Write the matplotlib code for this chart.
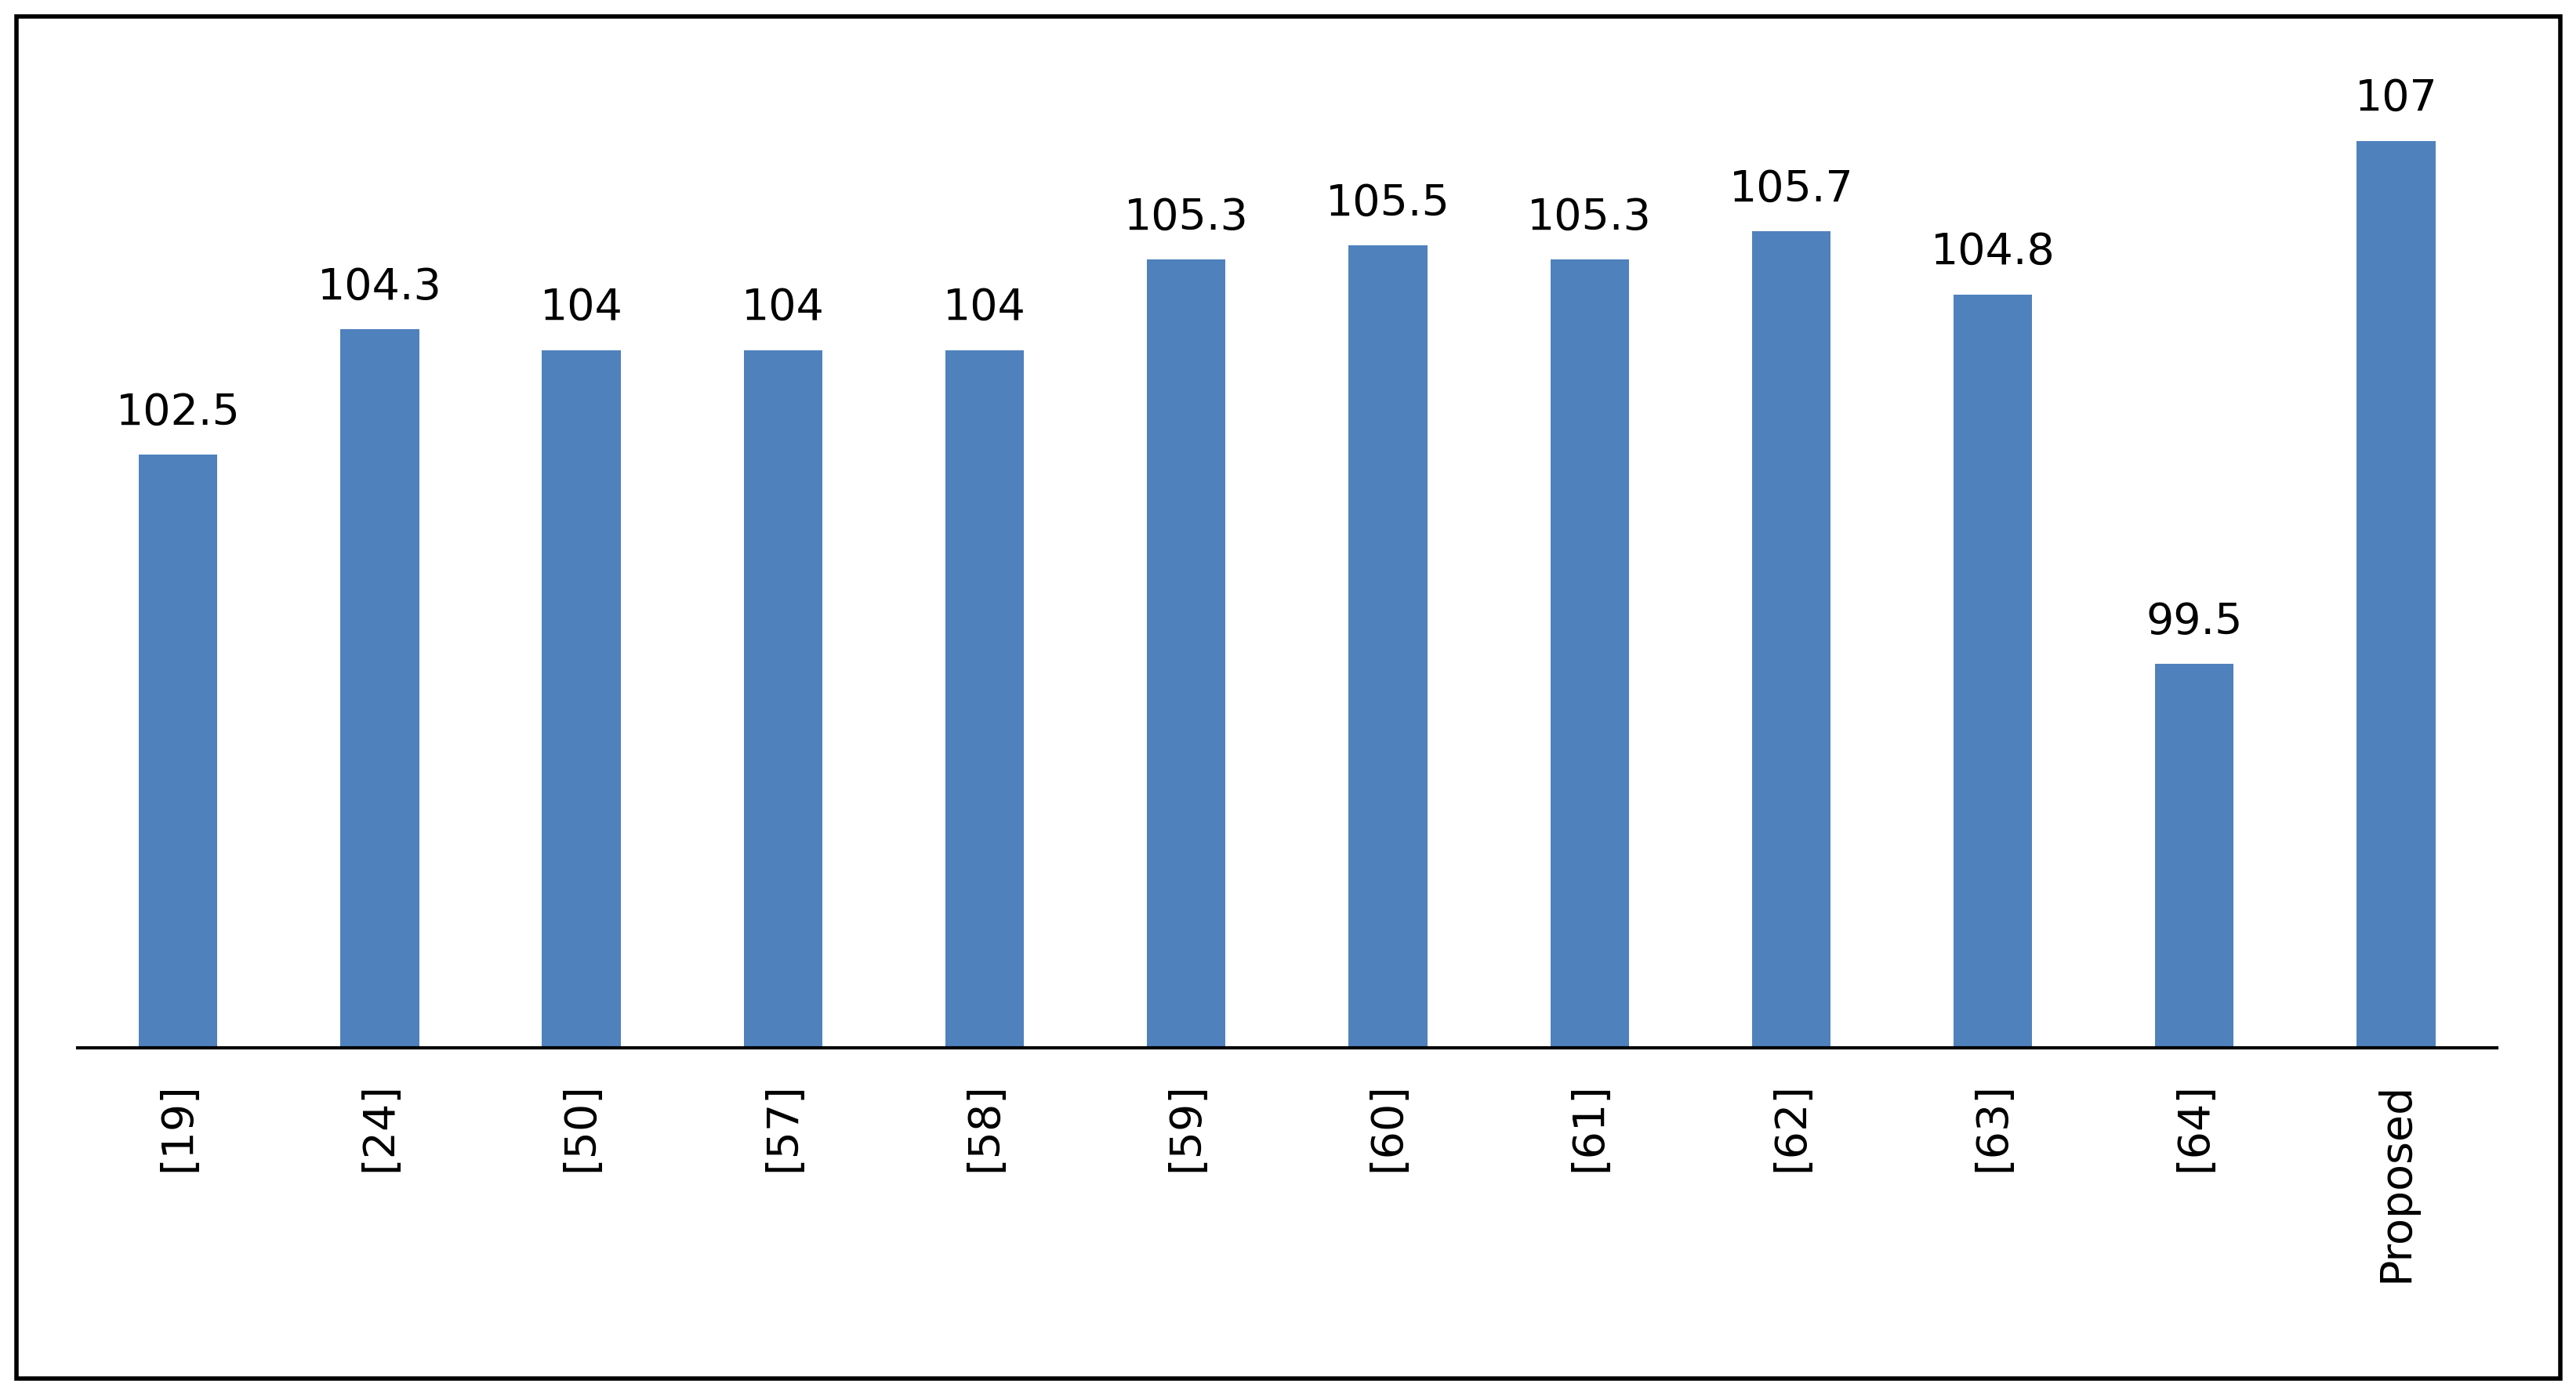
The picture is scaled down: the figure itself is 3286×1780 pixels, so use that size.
import matplotlib.pyplot as plt
from matplotlib.patches import Rectangle

categories = ['[19]', '[24]', '[50]', '[57]', '[58]', '[59]', '[60]', '[61]',
              '[62]', '[63]', '[64]', 'Proposed']
values = [102.5, 104.3, 104, 104, 104, 105.3, 105.5, 105.3, 105.7, 104.8, 99.5, 107]

fig = plt.figure(figsize=(32.87, 17.8), dpi=100)
ax = fig.add_axes([0.030, 0.249, 0.939, 0.70])

x = range(len(categories))
ax.bar(x, values, width=0.39, color='#4f81bd')
for xi, v in zip(x, values):
    ax.text(xi, v + 0.3, f'{v:g}', ha='center', va='bottom', fontsize=40)

ax.set_xlim(-0.5, len(categories) - 0.5)
ax.set_ylim(94, 108)
ax.set_yticks([])
ax.set_xticks(list(x))
ax.set_xticklabels(categories, rotation=90, fontsize=40, va='top')
ax.tick_params(axis='x', length=0, pad=32)
for s in ['top', 'right', 'left']:
    ax.spines[s].set_visible(False)
ax.spines['bottom'].set_linewidth(3)

fig.patches.append(Rectangle((0.0065, 0.012), 0.987, 0.976, transform=fig.transFigure,
                             fill=False, edgecolor='black', linewidth=4))

fig.savefig('out.png', dpi=100)
